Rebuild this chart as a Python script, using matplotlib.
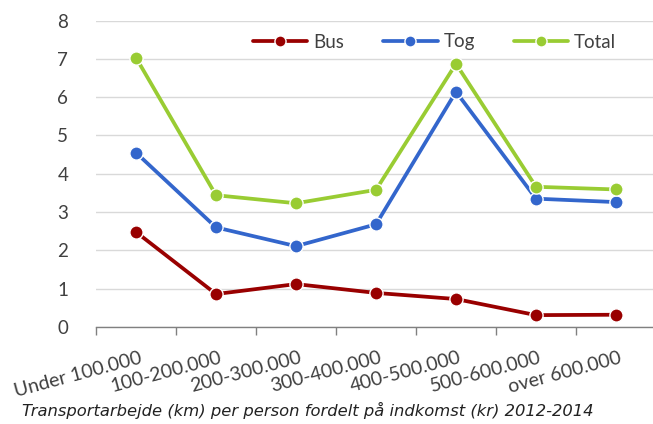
import numpy as np
import matplotlib.pyplot as plt

categories = ["Under 100.000", "100-200.000", "200-300.000", "300-400.000",
              "400-500.000", "500-600.000", "over 600.000"]
bus = [2.48, 0.86, 1.12, 0.89, 0.73, 0.31, 0.32]
tog = [4.55, 2.60, 2.11, 2.68, 6.14, 3.35, 3.26]
total = [7.03, 3.44, 3.23, 3.58, 6.87, 3.66, 3.59]
caption = "Transportarbejde (km) per person fordelt på indkomst (kr) 2012-2014"

series = [("Bus", bus, "#990000"), ("Tog", tog, "#3366CC"), ("Total", total, "#99CC33")]

fig = plt.figure(figsize=(6.53, 4.24), dpi=100)
ax = fig.add_axes([96 / 653, 97 / 424, 560 / 653, 306.5 / 424])

x = np.arange(len(categories))
for name, vals, col in series:
    ax.plot(x, vals, color=col, lw=2.7, marker="o", ms=9.5,
            mec="white", mew=1.0, label=name, solid_capstyle="round")

ax.set_xlim(-0.5, len(categories) - 0.5)
ax.set_ylim(0, 8)
ax.set_yticks(range(0, 9))
ax.yaxis.grid(True, color="#D9D9D9", lw=1)
ax.set_axisbelow(True)

for s in ["left", "right", "top"]:
    ax.spines[s].set_visible(False)
ax.spines["bottom"].set_color("#808080")
ax.spines["bottom"].set_linewidth(1)

ax.tick_params(axis="y", length=0, pad=20, labelsize=13.5, labelcolor="#404040")
ax.set_yticklabels([str(v) for v in range(0, 9)], family="Lato")

# ticks between categories, labels at category centres
ax.set_xticks(np.arange(-0.5, len(categories), 1.0))
ax.set_xticklabels([])
ax.tick_params(axis="x", length=6, color="#808080", width=1)
for i, c in enumerate(categories):
    ax.annotate(c, xy=(i, 0), xycoords=("data", "axes fraction"),
                xytext=(2, -16), textcoords="offset points",
                ha="right", va="top", rotation=15, rotation_mode="anchor",
                fontsize=14, family="Lato", color="#404040")

leg = fig.legend(*ax.get_legend_handles_labels(), loc="center left",
                 bbox_to_anchor=(253 / 653, 1 - 42 / 424), ncol=3,
                 frameon=False, handlelength=2.9, columnspacing=2.1,
                 handletextpad=0.3, borderpad=0, borderaxespad=0,
                 prop={"family": "Lato", "size": 13.5})
for t in leg.get_texts():
    t.set_color("#404040")
for h in leg.legend_handles:
    h.set_markersize(8)

fig.text(22 / 653, 1 - 410 / 424, caption, fontsize=11.8, style="italic",
         family="DejaVu Sans", color="#222222", va="center", ha="left")

fig.savefig("out.png", dpi=100)
